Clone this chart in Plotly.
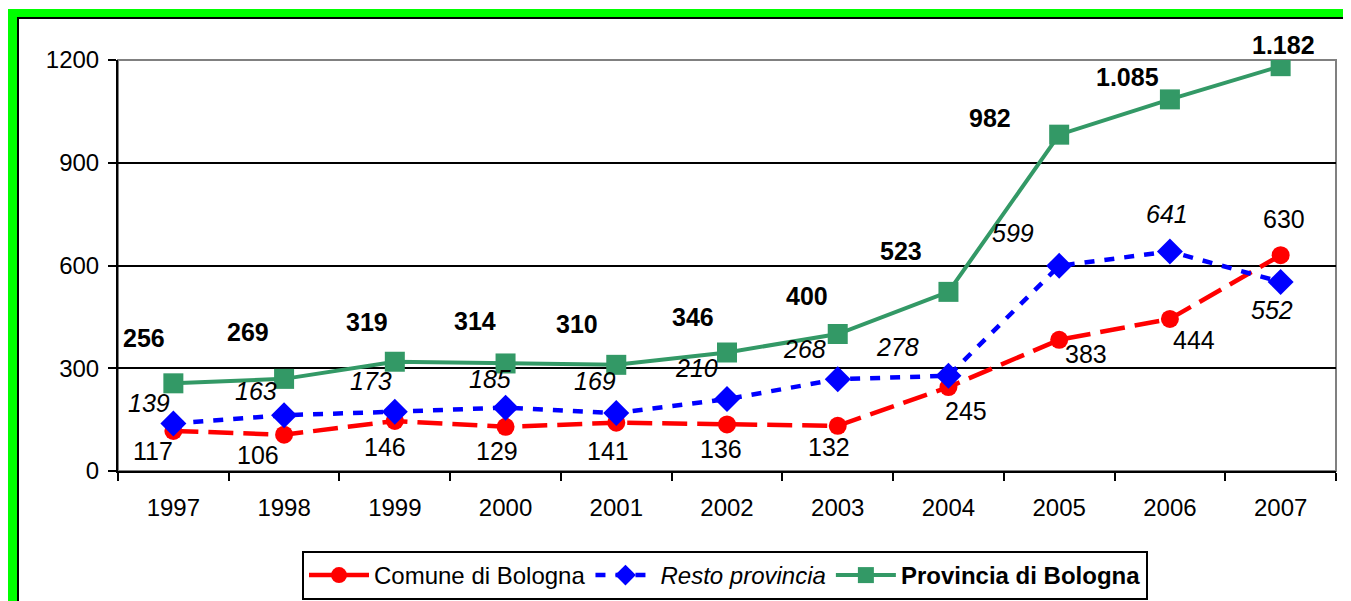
import plotly.graph_objects as go

# data
years = ['1997', '1998', '1999', '2000', '2001', '2002', '2003', '2004', '2005', '2006', '2007']
comune = [117, 106, 146, 129, 141, 136, 132, 245, 383, 444, 630]
resto = [139, 163, 173, 185, 169, 210, 268, 278, 599, 641, 552]
provincia = [256, 269, 319, 314, 310, 346, 400, 523, 982, 1085, 1182]

# label offsets in pixels (dx, dy up)
off_com = [(-20, -20), (-26, -20), (-10, -26), (-9, -24), (-8, -28), (-6, -25),
           (-9, -21), (18, -24), (27, -14), (24, -21), (3, 36)]
off_res = [(-24, 20), (-28, 24), (-24, 31), (-16, 29), (-21, 32), (-31, 31),
           (-33, 30), (-51, 29), (-46, 33), (-3, 37), (-9, -28)]
off_prov = [(-29, 45), (-36, 47), (-28, 40), (-31, 42), (-39, 41), (-34, 36),
            (-31, 38), (-47, 41), (-69, 17), (-42, 22), (3, 21)]

GREEN = '#339966'
FONT = 'Liberation Sans, Arial, sans-serif'

# the page body adds an 8px margin, so work in shifted pixel coords
OFF = 8
W, H = 1351 - OFF, 601 - OFF
L, R, T, B = 118 - OFF, 1336 - OFF, 60 - OFF, 471 - OFF


def px(x):
    return (x - OFF - L) / (R - L)


def py(y):
    return (B - (y - OFF)) / (B - T)


def fmt(v):
    return f'{v:,}'.replace(',', '.')


fig = go.Figure()

fig.add_trace(go.Scatter(
    x=years, y=comune, name='Comune di Bologna', mode='lines+markers',
    line=dict(color='#FF0000', width=4.5, dash='25px,10px'),
    marker=dict(symbol='circle', size=18, color='#FF0000'),
))
fig.add_trace(go.Scatter(
    x=years, y=resto, name='<i>Resto provincia</i>', mode='lines+markers',
    line=dict(color='#0000FF', width=4.5, dash='10px,10px'),
    marker=dict(symbol='diamond', size=20, color='#0000FF'),
))
fig.add_trace(go.Scatter(
    x=years, y=provincia, name='<b>Provincia di Bologna</b>', mode='lines+markers',
    line=dict(color=GREEN, width=4),
    marker=dict(symbol='square', size=20, color=GREEN),
))

annotations = []
for series, offs, style in [(comune, off_com, 'normal'), (resto, off_res, 'italic'),
                            (provincia, off_prov, 'bold')]:
    for i, (v, (dx, dy)) in enumerate(zip(series, offs)):
        txt = fmt(v)
        if style == 'italic':
            txt = f'<i>{txt}</i>'
        elif style == 'bold':
            txt = f'<b>{txt}</b>'
        annotations.append(dict(
            x=i, y=v, xref='x', yref='y', text=txt, showarrow=False,
            xshift=dx, yshift=dy, font=dict(family=FONT, size=25, color='black'),
        ))

shapes = [
    # green frame
    dict(type='rect', xref='paper', yref='paper', x0=px(8), x1=px(1400), y0=py(9), y1=py(17),
         fillcolor='#00FF00', line=dict(width=0), layer='below'),
    dict(type='rect', xref='paper', yref='paper', x0=px(8), x1=px(17), y0=py(9), y1=py(640),
         fillcolor='#00FF00', line=dict(width=0), layer='below'),
    dict(type='line', xref='paper', yref='paper', x0=px(17), x1=px(1400), y0=py(18), y1=py(18),
         line=dict(color='black', width=2), layer='below'),
    dict(type='line', xref='paper', yref='paper', x0=px(18), x1=px(18), y0=py(17), y1=py(640),
         line=dict(color='black', width=2), layer='below'),
    # plot border
    dict(type='rect', xref='paper', yref='paper', x0=0, x1=1, y0=0, y1=1,
         line=dict(color='#808080', width=2), layer='between'),
]

fig.update_layout(
    width=W, height=H,
    margin=dict(l=L, r=W - R, t=T, b=H - B, autoexpand=False),
    paper_bgcolor='white', plot_bgcolor='white',
    font=dict(family=FONT, size=25, color='black'),
    xaxis=dict(
        type='category', range=[-0.5, 10.5], showgrid=False,
        showline=True, linecolor='black', linewidth=2,
        ticks='outside', tickson='boundaries', ticklen=8, tickcolor='black', tickwidth=2,
        tickfont=dict(size=24), zeroline=False, ticklabelstandoff=14,
    ),
    yaxis=dict(
        range=[0, 1200], dtick=300, showgrid=True, gridcolor='black', gridwidth=1.5,
        showline=True, linecolor='black', linewidth=2,
        ticks='outside', ticklen=8, tickcolor='black', tickwidth=2,
        tickfont=dict(size=24), zeroline=False, ticklabelstandoff=4,
    ),
    legend=dict(
        orientation='h', x=px(725), xanchor='center', y=py(551), yanchor='top',
        bordercolor='black', borderwidth=2, bgcolor='white',
        font=dict(family=FONT, size=24, color='black'),
        itemwidth=60, tracegroupgap=0,
    ),
    annotations=annotations,
    shapes=shapes,
    showlegend=True,
)

fig.write_html('out.html')
